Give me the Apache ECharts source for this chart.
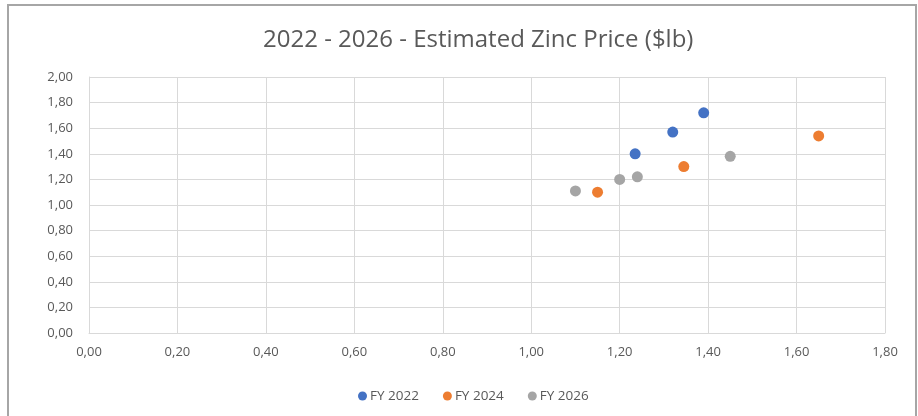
<!DOCTYPE html>
<html>
<head>
<meta charset="utf-8">
<style>
  html, body { margin: 0; padding: 0; background: #ffffff; }
  #chart { width: 918px; height: 416px; }
</style>
<script src="https://cdn.jsdelivr.net/npm/echarts@6/dist/echarts.min.js"></script>
</head>
<body>
<div id="chart"></div>
<script>
// Estimated zinc price points ($/lb), one [x, y] pair per estimate
const seriesNames = ['FY 2022', 'FY 2024', 'FY 2026'];
const fy2022 = [[1.235, 1.40], [1.32, 1.57], [1.39, 1.72]];
const fy2024 = [[1.15, 1.10], [1.345, 1.30], [1.65, 1.54]];
const fy2026 = [[1.10, 1.11], [1.20, 1.20], [1.24, 1.22], [1.45, 1.38]];
const seriesColors = ['#4472C4', '#ED7D31', '#A5A5A5'];

const fmt = v => v.toFixed(2).replace('.', ',');
const font = "'Open Sans', 'Noto Sans', sans-serif";
const gridLine = { show: true, lineStyle: { color: '#d9d9d9', width: 1 } };

const chart = echarts.init(document.getElementById('chart'), null, { renderer: 'canvas' });
chart.setOption({
  animation: false,
  backgroundColor: '#ffffff',
  title: {
    text: '2022 - 2026 - Estimated Zinc Price ($lb)',
    left: 258,
    top: 23,
    textStyle: { fontFamily: font, fontSize: 24, fontWeight: 'normal', color: '#595959' }
  },
  graphic: [
    { type: 'rect', shape: { x: 8, y: 5, width: 908, height: 420 },
      style: { fill: 'none', stroke: '#a6a6a6', lineWidth: 2 }, silent: true }
  ],
  legend: {
    data: seriesNames,
    bottom: 8,
    left: 353,
    itemWidth: 9,
    itemHeight: 9,
    itemGap: 24,
    icon: 'circle',
    textStyle: { fontFamily: font, fontSize: 13.5, color: '#595959', padding: [0, 0, 0, -2] }
  },
  grid: { left: 89, right: 33, top: 77, bottom: 83, containLabel: false },
  xAxis: {
    type: 'value', min: 0, max: 1.8, interval: 0.2,
    axisLine: { show: true, lineStyle: { color: '#d9d9d9' } },
    axisTick: { show: false },
    splitLine: gridLine,
    axisLabel: { formatter: fmt, margin: 13, fontFamily: font, fontSize: 13, color: '#595959' }
  },
  yAxis: {
    type: 'value', min: 0, max: 2, interval: 0.2,
    axisLine: { show: true, lineStyle: { color: '#d9d9d9' } },
    axisTick: { show: false },
    splitLine: gridLine,
    axisLabel: { formatter: fmt, margin: 16, fontFamily: font, fontSize: 13, color: '#595959' }
  },
  series: [fy2022, fy2024, fy2026].map((d, i) => ({
    name: seriesNames[i],
    type: 'scatter',
    data: d,
    symbol: 'circle',
    symbolSize: 11,
    itemStyle: { color: seriesColors[i], opacity: 1 }
  }))
});
</script>
</body>
</html>
